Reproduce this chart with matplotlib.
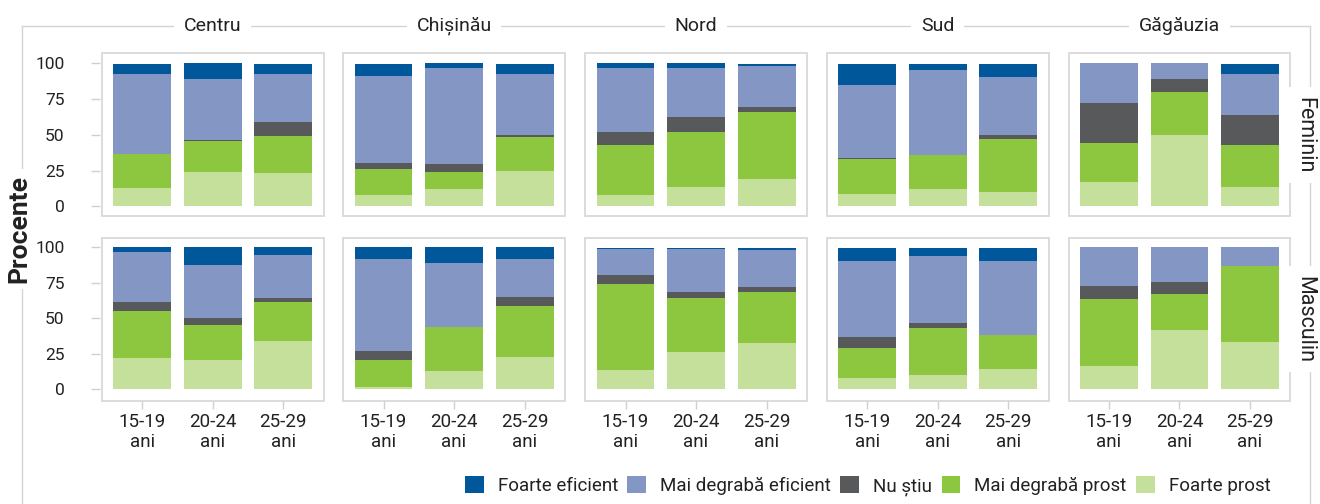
import matplotlib

matplotlib.use("Agg")
import matplotlib.pyplot as plt  # noqa: E402
from matplotlib.lines import Line2D  # noqa: E402
from matplotlib.patches import Patch, Rectangle  # noqa: E402

plt.rcParams["font.family"] = ["Roboto", "DejaVu Sans"]

regions = ["Centru", "Chișinău", "Nord", "Sud", "Găgăuzia"]
sexes = ["Feminin", "Masculin"]
ages = ["15-19\nani", "20-24\nani", "25-29\nani"]
series_names = ["Foarte eficient", "Mai degrabă eficient", "Nu știu", "Mai degrabă prost", "Foarte prost"]
colors = {
    "Foarte eficient": "#00589b",
    "Mai degrabă eficient": "#8497c4",
    "Nu știu": "#58595b",
    "Mai degrabă prost": "#8dc63f",
    "Foarte prost": "#c5e09b",
}

# values in %, [sex][region][age]
foarte_prost = [
    [[13.1, 23.9, 23.0], [8.2, 12.4, 24.4], [8.2, 13.8, 19.4], [8.9, 12.4, 10.3], [17.3, 49.6, 13.8]],
    [[22.0, 20.6, 34.0], [1.5, 12.9, 22.7], [13.6, 26.2, 32.6], [8.0, 10.1, 14.3], [16.4, 41.7, 33.3]],
]
mai_degraba_prost = [
    [[23.4, 21.5, 25.9], [17.6, 11.3, 23.8], [34.4, 38.0, 46.4], [23.9, 23.2, 36.5], [26.7, 30.3, 28.8]],
    [[33.3, 24.6, 27.4], [19.1, 30.9, 35.8], [60.4, 38.0, 35.8], [21.0, 33.0, 23.9], [47.1, 25.3, 53.4]],
]
nu_stiu = [
    [[0.0, 1.0, 10.1], [4.2, 5.6, 1.4], [9.2, 10.5, 3.5], [0.7, 0.0, 2.8], [28.1, 9.1, 21.1]],
    [[6.1, 4.9, 2.8], [6.3, 0.0, 6.4], [6.3, 4.2, 3.5], [7.8, 3.5, 0.0], [9.1, 8.4, 0.0]],
]
mai_degraba_eficient = [
    [[56.0, 42.6, 33.5], [61.1, 67.4, 42.9], [44.9, 34.4, 28.8], [51.3, 59.7, 40.8], [28.1, 11.2, 28.8]],
    [[35.1, 37.3, 30.2], [64.7, 45.0, 26.7], [18.3, 30.4, 26.0], [53.4, 47.1, 52.0], [27.4, 24.6, 13.3]],
]
foarte_eficient = [
    [[7.0, 11.2, 7.0], [8.4, 3.5, 7.0], [3.5, 3.5, 1.4], [14.7, 4.2, 9.1], [0.0, 0.0, 7.0]],
    [[3.5, 12.6, 5.6], [8.4, 11.2, 8.4], [0.7, 0.7, 1.4], [9.1, 5.6, 9.1], [0.0, 0.0, 0.0]],
]
# stacking order, bottom to top
stack = [
    ("Foarte prost", foarte_prost),
    ("Mai degrabă prost", mai_degraba_prost),
    ("Nu știu", nu_stiu),
    ("Mai degrabă eficient", mai_degraba_eficient),
    ("Foarte eficient", foarte_eficient),
]

W, H = 1320, 504
fig = plt.figure(figsize=(W / 100, H / 100), dpi=100)

col_left = [102, 343.3, 585.3, 827, 1068.7]
panel_w = 221.5
row_top = [53.3, 237.7]
panel_h = 163
ylims = [(-7.0, 107.0), (-8.0, 106.5)]
frame_col = "#d9d9d9"
tick_col = "#cfcfcf"
text_col = "#222222"

for r, sex in enumerate(sexes):
    for c, region in enumerate(regions):
        ax = fig.add_axes([col_left[c] / W, 1 - (row_top[r] + panel_h) / H, panel_w / W, panel_h / H])
        xs = range(len(ages))
        base = [0.0] * len(ages)
        for name, data in stack:
            vals = data[r][c]
            ax.bar(xs, vals, bottom=base, width=0.82, color=colors[name], linewidth=0)
            base = [b + v for b, v in zip(base, vals)]
        ax.set_xlim(-0.57, 2.57)
        ax.set_ylim(*ylims[r])
        for s in ax.spines.values():
            s.set_visible(False)
        ax.spines["left"].set_position(("outward", 1.5))
        ax.add_patch(Rectangle((0, 0), 1, 1, transform=ax.transAxes, fill=False,
                               edgecolor=frame_col, linewidth=1.3, clip_on=False))
        ax.set_yticks([0, 25, 50, 75, 100])
        if c == 0:
            ax.tick_params(axis="y", length=6.5, width=1, color=tick_col, pad=19,
                           labelsize=12.5, labelcolor=text_col)
        else:
            ax.tick_params(axis="y", left=False, labelleft=False)
        ax.set_xticks(list(xs))
        if r == 1:
            ax.set_xticklabels(ages, linespacing=1.15)
            ax.tick_params(axis="x", length=6, width=1, color=tick_col, pad=3,
                           labelsize=13.5, labelcolor=text_col)
        else:
            ax.tick_params(axis="x", bottom=False, labelbottom=False)

# outer frame with facet labels sitting on it
line_kw = dict(color="#d4d4d4", linewidth=1.0, transform=fig.transFigure)
fig.add_artist(Line2D([22 / W, 1310 / W], [1 - 26 / H, 1 - 26 / H], **line_kw))
fig.add_artist(Line2D([22 / W, 22 / W], [1 - 26 / H, 0], **line_kw))
fig.add_artist(Line2D([1310 / W, 1310 / W], [1 - 26 / H, 0], **line_kw))

box = dict(facecolor="white", edgecolor="none", pad=7)
for c, region in enumerate(regions):
    fig.text((col_left[c] + panel_w / 2) / W, 1 - 26 / H, region, ha="center", va="center",
             fontsize=14, color=text_col, bbox=box)
for r, sex in enumerate(sexes):
    fig.text(1305 / W, 1 - (row_top[r] + panel_h / 2) / H, sex, ha="center", va="center",
             rotation=-90, fontsize=15.5, color=text_col, bbox=box)
fig.text(19 / W, 1 - 229 / H, "Procente", ha="center", va="center", rotation=90,
         fontsize=19, fontweight="bold", color=text_col, bbox=dict(facecolor="white", edgecolor="none", pad=4))

handles = [Patch(facecolor=colors[n], edgecolor="none", label=n) for n in series_names]
fig.legend(handles=handles, loc="center right", bbox_to_anchor=(1280 / W, 1 - 486 / H), ncol=5,
           frameon=False, fontsize=13.5, handlelength=1.0, handleheight=1.0, handletextpad=0.75,
           columnspacing=0.5, borderpad=0, labelcolor=text_col)

fig.savefig("out.png", dpi=100)
